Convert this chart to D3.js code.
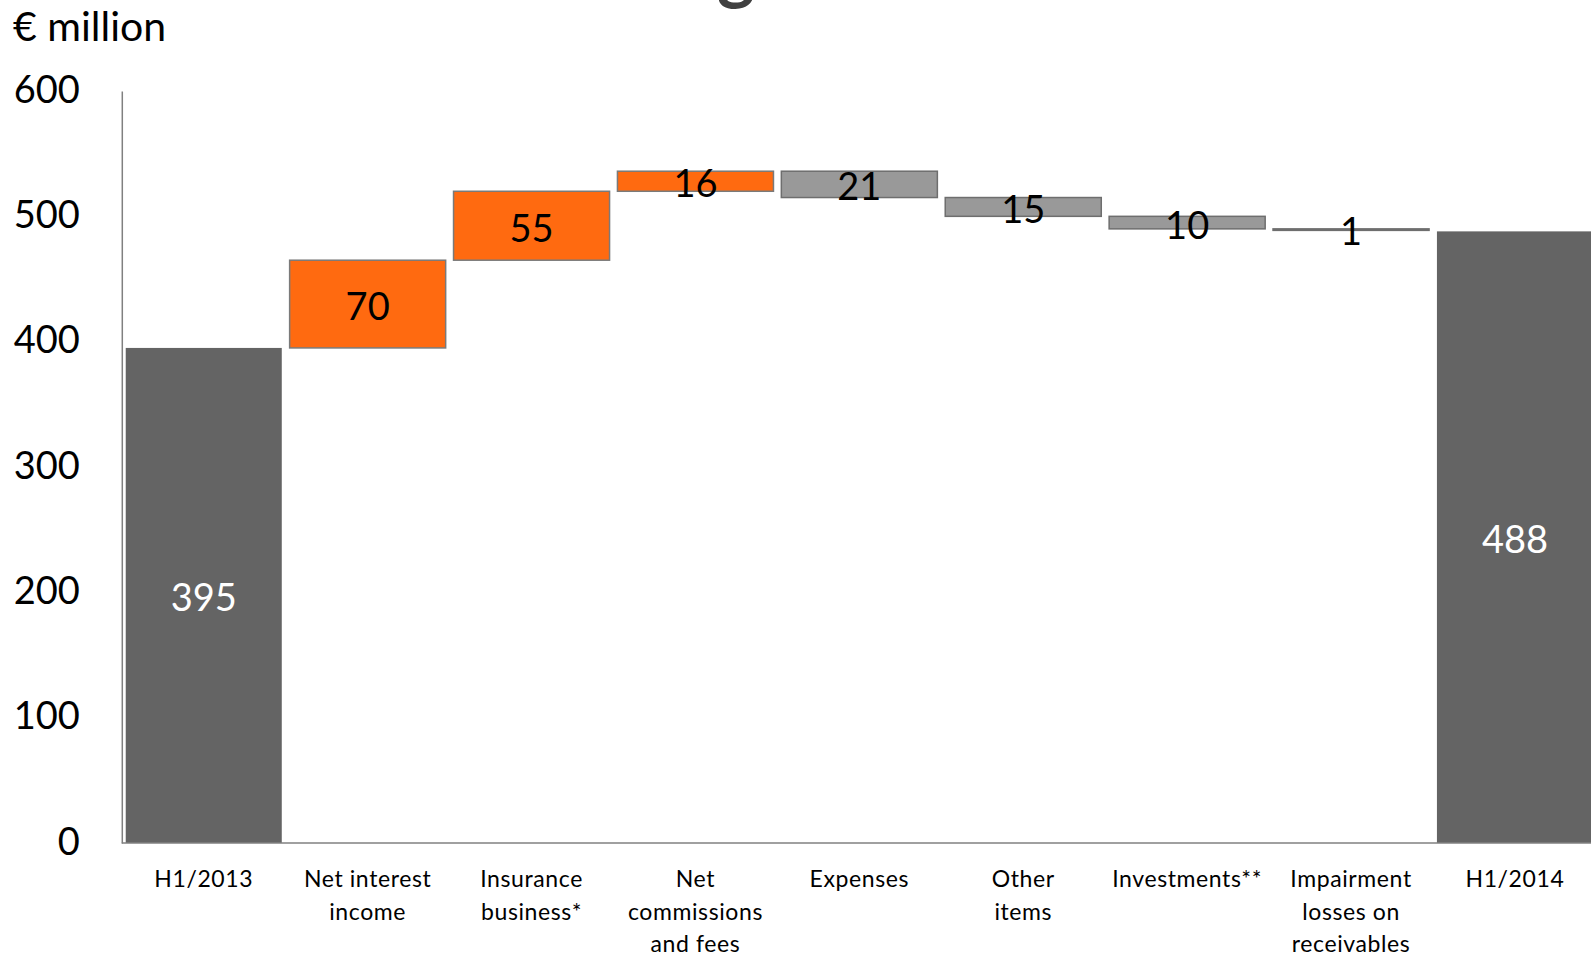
<!DOCTYPE html>
<html>
<head>
<meta charset="utf-8">
<script src="https://cdn.jsdelivr.net/npm/d3@7"></script>
<style>
  html, body { margin: 0; padding: 0; background: #fff; overflow: hidden; }
  svg { display: block; font-family: Lato, "Open Sans", sans-serif; }
</style>
</head>
<body>
<svg id="chart" width="1591" height="957"></svg>
<script>
// ---- data ----
const categories = ["H1/2013", "Net interest income", "Insurance business*", "Net commissions and fees",
  "Expenses", "Other items", "Investments**", "Impairment losses on receivables", "H1/2014"];
const categoryLines = [["H1/2013"], ["Net interest", "income"], ["Insurance", "business*"],
  ["Net", "commissions", "and fees"], ["Expenses"], ["Other", "items"], ["Investments**"],
  ["Impairment", "losses on", "receivables"], ["H1/2014"]];
const values = [395, 70, 55, 16, -21, -15, -10, -1, 488];
const kinds = ["total", "up", "up", "up", "down", "down", "down", "down", "total"];
const yTicks = [0, 100, 200, 300, 400, 500, 600];
const unitLabel = "€ million";

// ---- build waterfall ----
let run = 0;
const bars = values.map((v, i) => {
  let lo, hi;
  if (kinds[i] === "total") { lo = 0; hi = v; run = v; }
  else { const s = run; run = run + v; lo = Math.min(s, run); hi = Math.max(s, run); }
  return { cat: categories[i], lines: categoryLines[i], v, kind: kinds[i], lo, hi };
});

const svg = d3.select("#chart");
const x0 = 121.8, step = 163.9;
const x = d3.scaleBand().domain(categories).range([x0, x0 + step * categories.length])
  .paddingInner(0.048).paddingOuter(0.024);
const y = d3.scaleLinear().domain([0, 600]).range([843, 91]);

const fills = { total: "#646464", up: "#FF6A10", down: "#999999" };
const strokes = { total: "none", up: "#7a7a7a", down: "#6e6e6e" };

// cut-off title fragment (the reference shows only the bottom of this glyph)
svg.append("text").attr("x", 736).attr("y", -5).attr("text-anchor", "middle")
  .attr("font-size", 72).attr("font-weight", "bold").attr("fill", "#404040").text("g");

// unit label
svg.append("text").attr("x", 13).attr("y", 25).attr("dominant-baseline", "central")
  .attr("font-size", 41).attr("fill", "#000").text(unitLabel);

// bars
svg.selectAll("rect.bar").data(bars).join("rect")
  .attr("class", "bar")
  .attr("x", d => x(d.cat))
  .attr("width", x.bandwidth())
  .attr("y", d => y(d.hi))
  .attr("height", d => Math.max(y(d.lo) - y(d.hi), 1.5))
  .attr("fill", d => fills[d.kind])
  .attr("stroke", d => d.kind === "total" ? "none" : (Math.abs(d.v) < 2 ? "#6e6e6e" : strokes[d.kind]))
  .attr("stroke-width", 1.5);

// axes
const yAxis = d3.axisLeft(y).tickValues(yTicks).tickSize(0).tickPadding(42);
const gy = svg.append("g").attr("transform", `translate(${x0},0)`).call(yAxis);
gy.select(".domain").attr("stroke", "#808080").attr("stroke-width", 1.5);
gy.selectAll("text").attr("font-size", 38).attr("fill", "#000").attr("font-family", "Lato, sans-serif")
  .attr("dy", "-0.1em").attr("dominant-baseline", "central");

svg.append("line").attr("x1", x0).attr("x2", 1591).attr("y1", y(0)).attr("y2", y(0))
  .attr("stroke", "#808080").attr("stroke-width", 1.5);

// value labels
svg.selectAll("text.val").data(bars).join("text")
  .attr("class", "val")
  .attr("x", d => x(d.cat) + x.bandwidth() / 2)
  .attr("y", d => (y(d.lo) + y(d.hi)) / 2 + 1)
  .attr("text-anchor", "middle").attr("dominant-baseline", "central")
  .attr("font-size", 38)
  .attr("fill", d => d.kind === "total" ? "#fff" : "#000")
  .text(d => Math.abs(d.v));

// category labels
const cl = svg.selectAll("text.cat").data(bars).join("text")
  .attr("class", "cat")
  .attr("text-anchor", "middle")
  .attr("font-size", 23).attr("fill", "#000").attr("letter-spacing", 0.6);
cl.selectAll("tspan").data(d => d.lines.map(l => ({ l, cx: x(d.cat) + x.bandwidth() / 2 })))
  .join("tspan")
  .attr("x", t => t.cx)
  .attr("y", (t, i) => 887 + i * 32.5)
  .text(t => t.l);
</script>
</body>
</html>
